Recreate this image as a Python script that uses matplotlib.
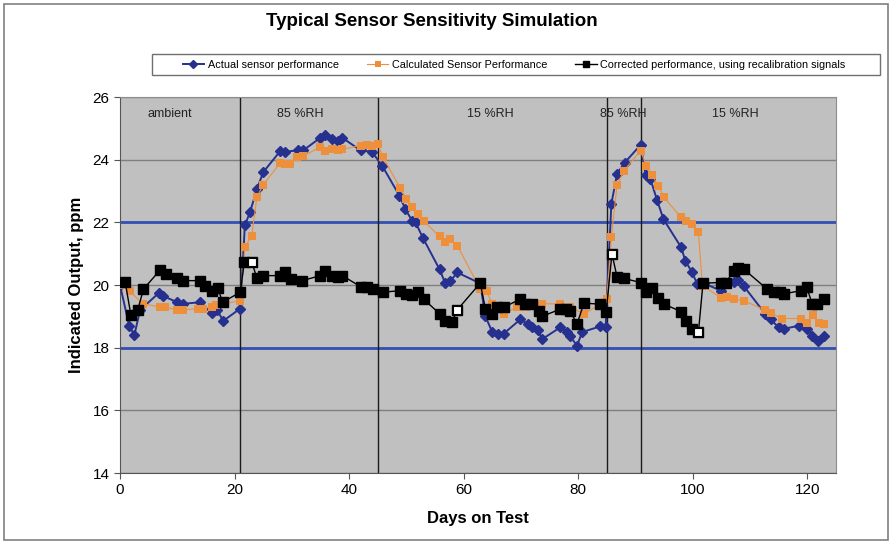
import numpy as np
import matplotlib
matplotlib.use("Agg")
import matplotlib.pyplot as plt
from matplotlib.lines import Line2D
from matplotlib.patches import Rectangle

plt.rcParams['font.family'] = ['Liberation Sans', 'DejaVu Sans']

# actual sensor performance (blue diamonds)
actual_days = [0, 1.6, 2.5, 3.5, 6.8, 7.5, 10, 11, 14, 16, 17, 18, 21,
               21.8, 22.7, 23.9, 25, 28, 28.8, 31, 32, 35, 35.8, 37, 38, 38.8, 42, 44,
               45.8, 48.8, 49.8, 51, 51.6, 52.9, 55.8, 56.8, 57.7, 58.9, 62.9, 63.8, 65,
               66, 67, 69.9, 71.3, 72, 73, 73.7, 76.9, 78, 78.6, 79.8, 80.7, 83.9, 84.8,
               85.8, 86.8, 88.1, 90.9, 91.8, 92.6, 93.8, 94.9, 98, 98.7, 99.9, 100.8,
               102, 104.9, 107.2, 108, 108.9, 112.7, 113.6, 115, 115.9, 118.5, 120,
               120.9, 121.8, 123]
actual_vals = [20.0, 18.7, 18.4, 19.2, 19.75, 19.65, 19.45, 19.4, 19.45, 19.1, 19.2, 18.85, 19.25,
               21.9, 22.33, 23.05, 23.6, 24.28, 24.25, 24.3, 24.3, 24.7, 24.8, 24.65, 24.6, 24.7, 24.3, 24.25,
               23.8, 22.85, 22.43, 22.05, 22.0, 21.5, 20.5, 20.05, 20.13, 20.4, 20.05, 19.0, 18.5,
               18.43, 18.45, 18.9, 18.75, 18.65, 18.55, 18.27, 18.65, 18.5, 18.37, 18.06, 18.5, 18.68, 18.65,
               22.59, 23.55, 23.9, 24.47, 23.5, 23.39, 22.7, 22.1, 21.2, 20.78, 20.4, 20.03,
               20.05, 19.82, 20.1, 20.15, 19.97, 19.07, 18.9, 18.65, 18.6, 18.7, 18.6,
               18.37, 18.2, 18.37]

# calculated sensor performance (orange squares)
calc_days = [0, 1.7, 4, 7, 7.8, 10, 11, 13.7, 14.5, 16, 16.7, 21,
             21.8, 23, 23.9, 25, 28, 28.8, 29.7, 30.9, 32, 35, 35.8, 37, 38, 38.8, 42, 43.2, 44, 45,
             45.9, 48.9, 50, 51, 52.1, 53, 55.8, 56.8, 57.7, 58.9, 62.9, 64, 65, 65.8, 67, 69.3,
             70.6, 73.7, 76.9, 78.6, 81, 83.9, 85,
             85.8, 86.8, 88, 90.9, 91.9, 92.9, 94, 95, 97.9, 98.9, 99.9, 101, 101.7,
             104.9, 106, 107.2, 108.9, 112.7, 113.7, 115.6, 118.9, 120, 121, 122, 123]
calc_vals = [20.0, 19.8, 19.4, 19.3, 19.3, 19.2, 19.2, 19.25, 19.25, 19.3, 19.35, 19.5,
             21.2, 21.58, 22.8, 23.2, 23.9, 23.87, 23.85, 24.09, 24.12, 24.4, 24.28, 24.33, 24.3, 24.33,
             24.45, 24.48, 24.45, 24.5,
             24.1, 23.1, 22.75, 22.5, 22.27, 22.05, 21.55, 21.37, 21.47, 21.26, 19.87, 19.8, 19.4, 19.3,
             19.07, 19.3, 19.3, 19.4, 19.4, 19.3, 19.07, 19.4, 19.55,
             21.53, 23.2, 23.65, 24.29, 23.8, 23.5, 23.17, 22.8, 22.17, 22.05, 21.95, 21.68, 19.98,
             19.6, 19.62, 19.55, 19.5, 19.2, 19.1, 18.93, 18.93, 18.8, 19.05, 18.8, 18.77]

# corrected performance using recalibration signals (black squares)
corr_days = [0.9, 1.9, 3.1, 4.1, 7, 8, 9.9, 11, 14, 14.9, 16, 17.1, 17.9, 21,
             21.7, 23, 23.9, 25, 28, 28.8, 29.9, 31.8, 35, 35.8, 37, 38, 38.8, 42, 43.2, 44.2,
             45.9, 48.9, 50, 51, 52.1, 53, 55.9, 56.8, 58, 58.9, 62.9, 63.8, 65, 65.8, 67,
             69.9, 70.8, 72, 73.1, 73.7, 76.9, 77.8, 78.6, 79.8, 81, 83.9, 84.9,
             85.9, 86.8, 88, 90.9, 91.8, 92.9, 94, 95, 98, 98.9, 99.9, 101, 101.8,
             104.9, 105.8, 107.2, 108, 108.9, 113, 114.2, 115.3, 116, 118.9, 119.9, 120.9,
             121.7, 122.9]
corr_vals = [20.1, 19.04, 19.21, 19.87, 20.48, 20.35, 20.22, 20.14, 20.14, 19.98, 19.8, 19.9, 19.45, 19.77,
             20.72, 20.74, 20.22, 20.3, 20.3, 20.4, 20.2, 20.14, 20.3, 20.45, 20.3, 20.25, 20.3, 19.95,
             19.95, 19.87,
             19.77, 19.82, 19.71, 19.67, 19.77, 19.55, 19.07, 18.86, 18.83, 19.21, 20.06, 19.25, 19.07,
             19.29, 19.29,
             19.55, 19.39, 19.39, 19.18, 19.0, 19.23, 19.23, 19.18, 18.75, 19.42, 19.39, 19.15,
             21.0, 20.25, 20.21, 20.08, 19.77, 19.9, 19.6, 19.39, 19.15, 18.86, 18.59, 18.49, 20.06,
             20.08, 20.08, 20.46, 20.53, 20.51, 19.87, 19.79, 19.77, 19.72, 19.82, 19.93, 19.39,
             19.39, 19.55]

# days on which a recalibration signal was applied (open markers)
recal_days = [23, 58.9, 85.9, 101]

# humidity step changes and region labels
step_days = [21, 45, 85, 91]
region_labels = ["ambient", "85 %RH", "15 %RH", "85 %RH", "15 %RH"]
region_centers = [8.7, 31.5, 64.7, 87.8, 107.5]

# tolerance band
limits = [18, 22]

blue = '#25308f'
orange = '#ee8f3c'

fig = plt.figure(figsize=(8.93, 5.42), dpi=100)
ax = fig.add_axes([0.1344, 0.1273, 0.8016, 0.6937])
ax.set_facecolor('#c0c0c0')

ax.set_xlim(0, 125)
ax.set_ylim(14, 26)
ax.set_xticks(np.arange(0, 121, 20))
ax.set_yticks(np.arange(14, 27, 2))
ax.grid(axis='y', color='#7f7f7f', linewidth=1)
ax.set_axisbelow(True)

for lim in limits:
    ax.axhline(lim, color='#3350b5', linewidth=2, zorder=1.5)
for d in step_days:
    ax.axvline(d, color='#1a1a1a', linewidth=1, zorder=1.5)
for lbl, xc in zip(region_labels, region_centers):
    ax.text(xc, 25.45, lbl, ha='center', va='center', fontsize=9, color='#222222')

ax.plot(actual_days, actual_vals, color=blue, linewidth=1.4, marker='D',
        markersize=5.2, zorder=3)
ax.plot(calc_days, calc_vals, color=orange, linewidth=0.8, marker='s',
        markersize=6.3, markeredgewidth=0, zorder=3.2)
ax.plot(corr_days, corr_vals, color='black', linewidth=1.0, marker='s',
        markersize=6.5, zorder=3.4)

corr_days_a = np.array(corr_days)
corr_vals_a = np.array(corr_vals)
mask = np.isin(corr_days_a, recal_days)
ax.plot(corr_days_a[mask], corr_vals_a[mask], linestyle='none', marker='s',
        markersize=6, markerfacecolor='white', markeredgecolor='black',
        markeredgewidth=0.8, zorder=3.6)

for side in ['top', 'right']:
    ax.spines[side].set_color('#8c8c8c')
for side in ['left', 'bottom']:
    ax.spines[side].set_color('#555555')
ax.tick_params(axis='both', labelsize=11, direction='out', length=4, color='#555555')

ax.set_xlabel("Days on Test", fontsize=12, fontweight='bold', labelpad=10)
ax.set_ylabel("Indicated Output, ppm", fontsize=12, fontweight='bold', labelpad=6)

fig.text(0.484, 0.960, "Typical Sensor Sensitivity Simulation", ha='center', va='center',
         fontsize=13.5, fontweight='bold')

# legend box
fig.add_artist(Rectangle((152 / 893, 1 - 75 / 542), (880 - 152) / 893, 21 / 542,
                         transform=fig.transFigure, facecolor='white',
                         edgecolor='#707070', linewidth=1))
handles = [
    Line2D([], [], color=blue, linewidth=1.4, marker='D', markersize=4),
    Line2D([], [], color=orange, linewidth=0.8, marker='s', markersize=5, markeredgewidth=0),
    Line2D([], [], color='black', linewidth=1.0, marker='s', markersize=5),
]
labels = ["Actual sensor performance", "Calculated Sensor Performance",
          "Corrected performance, using recalibration signals"]
fig.legend(handles, labels, loc='center', bbox_to_anchor=(514 / 893, 1 - 64.5 / 542),
           ncol=3, frameon=False, fontsize=7.8, handlelength=2.0, handletextpad=0.3,
           columnspacing=2.6)

# outer chart border
fig.add_artist(Rectangle((4 / 893, 2 / 542), 884 / 893, 536 / 542, transform=fig.transFigure,
                         facecolor='none', edgecolor='#808080', linewidth=1.2))

fig.savefig('out.png', dpi=100)
